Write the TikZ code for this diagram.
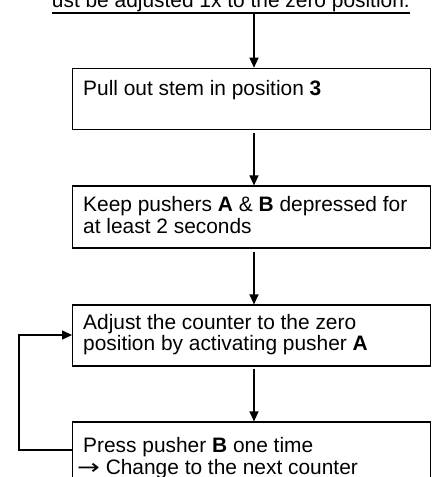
\documentclass[tikz,border=0pt]{standalone}
\usepackage{fontspec}
\usepackage{graphicx}
\setmainfont{Liberation Sans}
\newfontfamily\dvsans{DejaVu Sans}
\usetikzlibrary{arrows.meta}
\begin{document}
\begin{tikzpicture}[x=1pt,y=-1pt,
  box/.style={draw,line width=1.2pt,minimum width=357.6pt,inner sep=0pt},
  txt/.style={inner sep=0pt,anchor=base west,align=left,font=\fontsize{20.9}{21.3}\selectfont},
  arr/.style={line width=1.2pt,-{Triangle[length=10pt,width=9pt]}},
  ln/.style={line width=1.2pt}]
\useasboundingbox (0,0) rectangle (436,477);
\node[box,minimum height=61pt] (b1) at (251.5,98.8) {};
\node[box,minimum height=62pt] (b2) at (251.5,217) {};
\node[box,minimum height=61pt] (b3) at (251.5,335.5) {};
\node[box,minimum height=78pt] (b4) at (251.5,461) {};
\node[txt,anchor=base east] (t0) at (410,7.8) {ust be adjusted 1x to the zero position.};
\draw[ln] ([yshift=-5.2pt]t0.base west) -- ([yshift=-5.2pt]t0.base east);
\node[txt] (t1) at (83,95) {Pull out stem in position \textbf{3}};
\node[txt] (t2) at (83,233) {Keep pushers \textbf{A} \& \textbf{B} depressed for\\at least 2 seconds};
\node[txt] (t3) at (83,350.6) {Adjust the counter to the zero\\position by activating pusher \textbf{A}};
\node[txt] (t4) at (83,474) {Press pusher \textbf{B} one time\\\hspace*{-6pt}{\dvsans\scalebox{1.3}[1]{→}} Change to the next counter};
\coordinate (a0) at (254,12.5);
\draw[arr] (a0) -- (a0 |- b1.north);
\draw[arr,shorten <=3pt] (b1.south -| a0) -- (b2.north -| a0);
\draw[arr,shorten <=3pt] (b2.south -| a0) -- (b3.north -| a0);
\draw[arr,shorten <=2pt] (b3.south -| a0) -- (b4.north -| a0);
\coordinate (l1) at (19,450);
\coordinate (l2) at (19,335);
\draw[arr] (b4.west |- l1) -- (l1) -- (l2) -- (b3.west |- l2);
\end{tikzpicture}
\end{document}
